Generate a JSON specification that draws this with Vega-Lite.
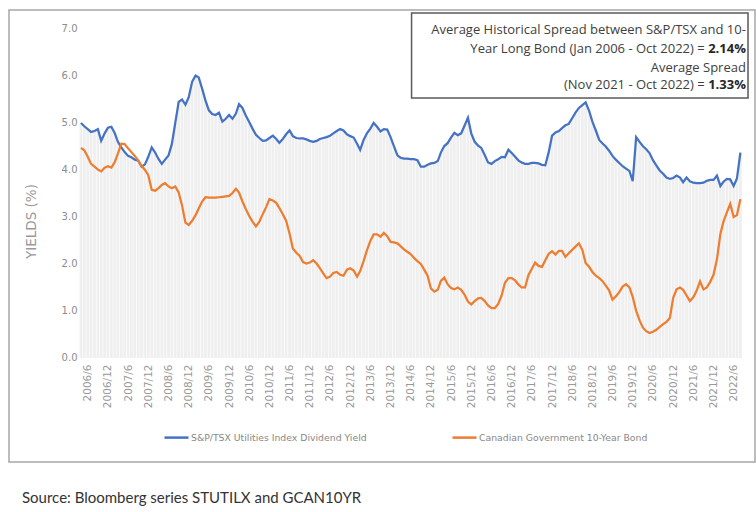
{
  "$schema": "https://vega.github.io/schema/vega-lite/v6.json",
  "width": 746,
  "height": 452,
  "autosize": {"type": "none"},
  "padding": {"left": 9, "top": 10, "right": 1, "bottom": 50},
  "background": "white",
  "config": {
    "view": {"stroke": "#a6a6a6", "strokeWidth": 1.5},
    "font": "DejaVu Sans",
    "axis": {"labelOverlap": false}
  },
  "title": {
    "text": "Source:  Bloomberg series STUTILX and GCAN10YR",
    "orient": "bottom",
    "anchor": "start",
    "font": "Lato",
    "fontSize": 15,
    "fontWeight": "normal",
    "color": "#333333",
    "baseline": "top",
    "offset": 29,
    "dx": 13
  },
  "resolve": {"axis": {"x": "independent", "y": "independent"}},
  "data": {
    "values": [
      {"d":"2006-04","s":"U","v":5.0},{"d":"2006-05","s":"U","v":4.93},{"d":"2006-06","s":"U","v":4.87},{"d":"2006-07","s":"U","v":4.81},{"d":"2006-08","s":"U","v":4.83},{"d":"2006-09","s":"U","v":4.87},{"d":"2006-10","s":"U","v":4.62},{"d":"2006-11","s":"U","v":4.78},{"d":"2006-12","s":"U","v":4.9},
      {"d":"2007-01","s":"U","v":4.92},{"d":"2007-02","s":"U","v":4.78},{"d":"2007-03","s":"U","v":4.6},{"d":"2007-04","s":"U","v":4.48},{"d":"2007-05","s":"U","v":4.38},{"d":"2007-06","s":"U","v":4.3},{"d":"2007-07","s":"U","v":4.27},{"d":"2007-08","s":"U","v":4.22},{"d":"2007-09","s":"U","v":4.2},{"d":"2007-10","s":"U","v":4.07},{"d":"2007-11","s":"U","v":4.12},{"d":"2007-12","s":"U","v":4.28},
      {"d":"2008-01","s":"U","v":4.48},{"d":"2008-02","s":"U","v":4.37},{"d":"2008-03","s":"U","v":4.24},{"d":"2008-04","s":"U","v":4.13},{"d":"2008-05","s":"U","v":4.22},{"d":"2008-06","s":"U","v":4.31},{"d":"2008-07","s":"U","v":4.55},{"d":"2008-08","s":"U","v":5.0},{"d":"2008-09","s":"U","v":5.45},{"d":"2008-10","s":"U","v":5.5},{"d":"2008-11","s":"U","v":5.39},{"d":"2008-12","s":"U","v":5.55},
      {"d":"2009-01","s":"U","v":5.88},{"d":"2009-02","s":"U","v":6.01},{"d":"2009-03","s":"U","v":5.97},{"d":"2009-04","s":"U","v":5.73},{"d":"2009-05","s":"U","v":5.48},{"d":"2009-06","s":"U","v":5.27},{"d":"2009-07","s":"U","v":5.19},{"d":"2009-08","s":"U","v":5.17},{"d":"2009-09","s":"U","v":5.22},{"d":"2009-10","s":"U","v":5.03},{"d":"2009-11","s":"U","v":5.09},{"d":"2009-12","s":"U","v":5.17},
      {"d":"2010-01","s":"U","v":5.09},{"d":"2010-02","s":"U","v":5.2},{"d":"2010-03","s":"U","v":5.4},{"d":"2010-04","s":"U","v":5.32},{"d":"2010-05","s":"U","v":5.16},{"d":"2010-06","s":"U","v":5.02},{"d":"2010-07","s":"U","v":4.88},{"d":"2010-08","s":"U","v":4.75},{"d":"2010-09","s":"U","v":4.68},{"d":"2010-10","s":"U","v":4.62},{"d":"2010-11","s":"U","v":4.63},{"d":"2010-12","s":"U","v":4.68},
      {"d":"2011-01","s":"U","v":4.73},{"d":"2011-02","s":"U","v":4.66},{"d":"2011-03","s":"U","v":4.58},{"d":"2011-04","s":"U","v":4.66},{"d":"2011-05","s":"U","v":4.76},{"d":"2011-06","s":"U","v":4.84},{"d":"2011-07","s":"U","v":4.72},{"d":"2011-08","s":"U","v":4.68},{"d":"2011-09","s":"U","v":4.67},{"d":"2011-10","s":"U","v":4.67},{"d":"2011-11","s":"U","v":4.65},{"d":"2011-12","s":"U","v":4.62},
      {"d":"2012-01","s":"U","v":4.6},{"d":"2012-02","s":"U","v":4.62},{"d":"2012-03","s":"U","v":4.66},{"d":"2012-04","s":"U","v":4.68},{"d":"2012-05","s":"U","v":4.7},{"d":"2012-06","s":"U","v":4.73},{"d":"2012-07","s":"U","v":4.78},{"d":"2012-08","s":"U","v":4.83},{"d":"2012-09","s":"U","v":4.87},{"d":"2012-10","s":"U","v":4.84},{"d":"2012-11","s":"U","v":4.76},{"d":"2012-12","s":"U","v":4.72},
      {"d":"2013-01","s":"U","v":4.69},{"d":"2013-02","s":"U","v":4.56},{"d":"2013-03","s":"U","v":4.43},{"d":"2013-04","s":"U","v":4.64},{"d":"2013-05","s":"U","v":4.78},{"d":"2013-06","s":"U","v":4.88},{"d":"2013-07","s":"U","v":5.0},{"d":"2013-08","s":"U","v":4.92},{"d":"2013-09","s":"U","v":4.82},{"d":"2013-10","s":"U","v":4.87},{"d":"2013-11","s":"U","v":4.86},{"d":"2013-12","s":"U","v":4.7},
      {"d":"2014-01","s":"U","v":4.5},{"d":"2014-02","s":"U","v":4.31},{"d":"2014-03","s":"U","v":4.26},{"d":"2014-04","s":"U","v":4.24},{"d":"2014-05","s":"U","v":4.24},{"d":"2014-06","s":"U","v":4.23},{"d":"2014-07","s":"U","v":4.23},{"d":"2014-08","s":"U","v":4.21},{"d":"2014-09","s":"U","v":4.07},{"d":"2014-10","s":"U","v":4.07},{"d":"2014-11","s":"U","v":4.11},{"d":"2014-12","s":"U","v":4.14},
      {"d":"2015-01","s":"U","v":4.15},{"d":"2015-02","s":"U","v":4.19},{"d":"2015-03","s":"U","v":4.37},{"d":"2015-04","s":"U","v":4.51},{"d":"2015-05","s":"U","v":4.57},{"d":"2015-06","s":"U","v":4.69},{"d":"2015-07","s":"U","v":4.79},{"d":"2015-08","s":"U","v":4.74},{"d":"2015-09","s":"U","v":4.78},{"d":"2015-10","s":"U","v":4.94},{"d":"2015-11","s":"U","v":5.11},{"d":"2015-12","s":"U","v":4.78},
      {"d":"2016-01","s":"U","v":4.6},{"d":"2016-02","s":"U","v":4.52},{"d":"2016-03","s":"U","v":4.47},{"d":"2016-04","s":"U","v":4.32},{"d":"2016-05","s":"U","v":4.16},{"d":"2016-06","s":"U","v":4.13},{"d":"2016-07","s":"U","v":4.19},{"d":"2016-08","s":"U","v":4.23},{"d":"2016-09","s":"U","v":4.28},{"d":"2016-10","s":"U","v":4.27},{"d":"2016-11","s":"U","v":4.43},{"d":"2016-12","s":"U","v":4.36},
      {"d":"2017-01","s":"U","v":4.28},{"d":"2017-02","s":"U","v":4.2},{"d":"2017-03","s":"U","v":4.16},{"d":"2017-04","s":"U","v":4.13},{"d":"2017-05","s":"U","v":4.13},{"d":"2017-06","s":"U","v":4.15},{"d":"2017-07","s":"U","v":4.15},{"d":"2017-08","s":"U","v":4.14},{"d":"2017-09","s":"U","v":4.11},{"d":"2017-10","s":"U","v":4.1},{"d":"2017-11","s":"U","v":4.38},{"d":"2017-12","s":"U","v":4.73},
      {"d":"2018-01","s":"U","v":4.8},{"d":"2018-02","s":"U","v":4.83},{"d":"2018-03","s":"U","v":4.89},{"d":"2018-04","s":"U","v":4.95},{"d":"2018-05","s":"U","v":4.98},{"d":"2018-06","s":"U","v":5.1},{"d":"2018-07","s":"U","v":5.22},{"d":"2018-08","s":"U","v":5.32},{"d":"2018-09","s":"U","v":5.38},{"d":"2018-10","s":"U","v":5.44},{"d":"2018-11","s":"U","v":5.26},{"d":"2018-12","s":"U","v":5.03},
      {"d":"2019-01","s":"U","v":4.84},{"d":"2019-02","s":"U","v":4.64},{"d":"2019-03","s":"U","v":4.57},{"d":"2019-04","s":"U","v":4.5},{"d":"2019-05","s":"U","v":4.41},{"d":"2019-06","s":"U","v":4.3},{"d":"2019-07","s":"U","v":4.22},{"d":"2019-08","s":"U","v":4.15},{"d":"2019-09","s":"U","v":4.08},{"d":"2019-10","s":"U","v":4.03},{"d":"2019-11","s":"U","v":3.98},{"d":"2019-12","s":"U","v":3.76},
      {"d":"2020-01","s":"U","v":4.7},{"d":"2020-02","s":"U","v":4.6},{"d":"2020-03","s":"U","v":4.51},{"d":"2020-04","s":"U","v":4.44},{"d":"2020-05","s":"U","v":4.36},{"d":"2020-06","s":"U","v":4.21},{"d":"2020-07","s":"U","v":4.1},{"d":"2020-08","s":"U","v":3.99},{"d":"2020-09","s":"U","v":3.92},{"d":"2020-10","s":"U","v":3.84},{"d":"2020-11","s":"U","v":3.81},{"d":"2020-12","s":"U","v":3.83},
      {"d":"2021-01","s":"U","v":3.88},{"d":"2021-02","s":"U","v":3.84},{"d":"2021-03","s":"U","v":3.74},{"d":"2021-04","s":"U","v":3.84},{"d":"2021-05","s":"U","v":3.76},{"d":"2021-06","s":"U","v":3.73},{"d":"2021-07","s":"U","v":3.72},{"d":"2021-08","s":"U","v":3.72},{"d":"2021-09","s":"U","v":3.73},{"d":"2021-10","s":"U","v":3.77},{"d":"2021-11","s":"U","v":3.79},{"d":"2021-12","s":"U","v":3.79},
      {"d":"2022-01","s":"U","v":3.88},{"d":"2022-02","s":"U","v":3.66},{"d":"2022-03","s":"U","v":3.75},{"d":"2022-04","s":"U","v":3.81},{"d":"2022-05","s":"U","v":3.8},{"d":"2022-06","s":"U","v":3.66},{"d":"2022-07","s":"U","v":3.82},{"d":"2022-08","s":"U","v":4.37},
      {"d":"2006-04","s":"B","v":4.47},{"d":"2006-05","s":"B","v":4.42},{"d":"2006-06","s":"B","v":4.28},{"d":"2006-07","s":"B","v":4.13},{"d":"2006-08","s":"B","v":4.07},{"d":"2006-09","s":"B","v":4.01},{"d":"2006-10","s":"B","v":3.97},{"d":"2006-11","s":"B","v":4.05},{"d":"2006-12","s":"B","v":4.08},
      {"d":"2007-01","s":"B","v":4.05},{"d":"2007-02","s":"B","v":4.17},{"d":"2007-03","s":"B","v":4.35},{"d":"2007-04","s":"B","v":4.56},{"d":"2007-05","s":"B","v":4.55},{"d":"2007-06","s":"B","v":4.46},{"d":"2007-07","s":"B","v":4.38},{"d":"2007-08","s":"B","v":4.3},{"d":"2007-09","s":"B","v":4.2},{"d":"2007-10","s":"B","v":4.09},{"d":"2007-11","s":"B","v":4.0},{"d":"2007-12","s":"B","v":3.89},
      {"d":"2008-01","s":"B","v":3.58},{"d":"2008-02","s":"B","v":3.56},{"d":"2008-03","s":"B","v":3.61},{"d":"2008-04","s":"B","v":3.68},{"d":"2008-05","s":"B","v":3.72},{"d":"2008-06","s":"B","v":3.65},{"d":"2008-07","s":"B","v":3.61},{"d":"2008-08","s":"B","v":3.65},{"d":"2008-09","s":"B","v":3.52},{"d":"2008-10","s":"B","v":3.25},{"d":"2008-11","s":"B","v":2.88},{"d":"2008-12","s":"B","v":2.83},
      {"d":"2009-01","s":"B","v":2.92},{"d":"2009-02","s":"B","v":3.04},{"d":"2009-03","s":"B","v":3.18},{"d":"2009-04","s":"B","v":3.33},{"d":"2009-05","s":"B","v":3.42},{"d":"2009-06","s":"B","v":3.41},{"d":"2009-07","s":"B","v":3.41},{"d":"2009-08","s":"B","v":3.41},{"d":"2009-09","s":"B","v":3.42},{"d":"2009-10","s":"B","v":3.43},{"d":"2009-11","s":"B","v":3.44},{"d":"2009-12","s":"B","v":3.45},
      {"d":"2010-01","s":"B","v":3.51},{"d":"2010-02","s":"B","v":3.6},{"d":"2010-03","s":"B","v":3.52},{"d":"2010-04","s":"B","v":3.33},{"d":"2010-05","s":"B","v":3.17},{"d":"2010-06","s":"B","v":3.02},{"d":"2010-07","s":"B","v":2.9},{"d":"2010-08","s":"B","v":2.8},{"d":"2010-09","s":"B","v":2.9},{"d":"2010-10","s":"B","v":3.06},{"d":"2010-11","s":"B","v":3.21},{"d":"2010-12","s":"B","v":3.38},
      {"d":"2011-01","s":"B","v":3.35},{"d":"2011-02","s":"B","v":3.3},{"d":"2011-03","s":"B","v":3.19},{"d":"2011-04","s":"B","v":3.06},{"d":"2011-05","s":"B","v":2.92},{"d":"2011-06","s":"B","v":2.65},{"d":"2011-07","s":"B","v":2.33},{"d":"2011-08","s":"B","v":2.24},{"d":"2011-09","s":"B","v":2.17},{"d":"2011-10","s":"B","v":2.04},{"d":"2011-11","s":"B","v":2.01},{"d":"2011-12","s":"B","v":2.03},
      {"d":"2012-01","s":"B","v":2.08},{"d":"2012-02","s":"B","v":2.01},{"d":"2012-03","s":"B","v":1.91},{"d":"2012-04","s":"B","v":1.8},{"d":"2012-05","s":"B","v":1.7},{"d":"2012-06","s":"B","v":1.73},{"d":"2012-07","s":"B","v":1.81},{"d":"2012-08","s":"B","v":1.83},{"d":"2012-09","s":"B","v":1.77},{"d":"2012-10","s":"B","v":1.75},{"d":"2012-11","s":"B","v":1.88},{"d":"2012-12","s":"B","v":1.91},
      {"d":"2013-01","s":"B","v":1.86},{"d":"2013-02","s":"B","v":1.73},{"d":"2013-03","s":"B","v":1.85},{"d":"2013-04","s":"B","v":2.06},{"d":"2013-05","s":"B","v":2.29},{"d":"2013-06","s":"B","v":2.49},{"d":"2013-07","s":"B","v":2.63},{"d":"2013-08","s":"B","v":2.63},{"d":"2013-09","s":"B","v":2.58},{"d":"2013-10","s":"B","v":2.66},{"d":"2013-11","s":"B","v":2.59},{"d":"2013-12","s":"B","v":2.47},
      {"d":"2014-01","s":"B","v":2.46},{"d":"2014-02","s":"B","v":2.44},{"d":"2014-03","s":"B","v":2.38},{"d":"2014-04","s":"B","v":2.31},{"d":"2014-05","s":"B","v":2.26},{"d":"2014-06","s":"B","v":2.21},{"d":"2014-07","s":"B","v":2.13},{"d":"2014-08","s":"B","v":2.06},{"d":"2014-09","s":"B","v":2.0},{"d":"2014-10","s":"B","v":1.88},{"d":"2014-11","s":"B","v":1.75},{"d":"2014-12","s":"B","v":1.48},
      {"d":"2015-01","s":"B","v":1.41},{"d":"2015-02","s":"B","v":1.45},{"d":"2015-03","s":"B","v":1.64},{"d":"2015-04","s":"B","v":1.71},{"d":"2015-05","s":"B","v":1.57},{"d":"2015-06","s":"B","v":1.49},{"d":"2015-07","s":"B","v":1.46},{"d":"2015-08","s":"B","v":1.5},{"d":"2015-09","s":"B","v":1.45},{"d":"2015-10","s":"B","v":1.35},{"d":"2015-11","s":"B","v":1.2},{"d":"2015-12","s":"B","v":1.14},
      {"d":"2016-01","s":"B","v":1.21},{"d":"2016-02","s":"B","v":1.27},{"d":"2016-03","s":"B","v":1.28},{"d":"2016-04","s":"B","v":1.21},{"d":"2016-05","s":"B","v":1.12},{"d":"2016-06","s":"B","v":1.06},{"d":"2016-07","s":"B","v":1.06},{"d":"2016-08","s":"B","v":1.15},{"d":"2016-09","s":"B","v":1.33},{"d":"2016-10","s":"B","v":1.6},{"d":"2016-11","s":"B","v":1.7},{"d":"2016-12","s":"B","v":1.7},
      {"d":"2017-01","s":"B","v":1.65},{"d":"2017-02","s":"B","v":1.56},{"d":"2017-03","s":"B","v":1.5},{"d":"2017-04","s":"B","v":1.5},{"d":"2017-05","s":"B","v":1.76},{"d":"2017-06","s":"B","v":1.9},{"d":"2017-07","s":"B","v":2.03},{"d":"2017-08","s":"B","v":1.96},{"d":"2017-09","s":"B","v":1.94},{"d":"2017-10","s":"B","v":2.08},{"d":"2017-11","s":"B","v":2.22},{"d":"2017-12","s":"B","v":2.27},
      {"d":"2018-01","s":"B","v":2.2},{"d":"2018-02","s":"B","v":2.28},{"d":"2018-03","s":"B","v":2.28},{"d":"2018-04","s":"B","v":2.15},{"d":"2018-05","s":"B","v":2.23},{"d":"2018-06","s":"B","v":2.3},{"d":"2018-07","s":"B","v":2.37},{"d":"2018-08","s":"B","v":2.44},{"d":"2018-09","s":"B","v":2.3},{"d":"2018-10","s":"B","v":2.02},{"d":"2018-11","s":"B","v":1.94},{"d":"2018-12","s":"B","v":1.83},
      {"d":"2019-01","s":"B","v":1.75},{"d":"2019-02","s":"B","v":1.7},{"d":"2019-03","s":"B","v":1.64},{"d":"2019-04","s":"B","v":1.54},{"d":"2019-05","s":"B","v":1.44},{"d":"2019-06","s":"B","v":1.24},{"d":"2019-07","s":"B","v":1.31},{"d":"2019-08","s":"B","v":1.4},{"d":"2019-09","s":"B","v":1.52},{"d":"2019-10","s":"B","v":1.57},{"d":"2019-11","s":"B","v":1.5},{"d":"2019-12","s":"B","v":1.3},
      {"d":"2020-01","s":"B","v":1.0},{"d":"2020-02","s":"B","v":0.8},{"d":"2020-03","s":"B","v":0.65},{"d":"2020-04","s":"B","v":0.57},{"d":"2020-05","s":"B","v":0.53},{"d":"2020-06","s":"B","v":0.56},{"d":"2020-07","s":"B","v":0.6},{"d":"2020-08","s":"B","v":0.66},{"d":"2020-09","s":"B","v":0.72},{"d":"2020-10","s":"B","v":0.77},{"d":"2020-11","s":"B","v":0.85},{"d":"2020-12","s":"B","v":1.28},
      {"d":"2021-01","s":"B","v":1.46},{"d":"2021-02","s":"B","v":1.5},{"d":"2021-03","s":"B","v":1.45},{"d":"2021-04","s":"B","v":1.33},{"d":"2021-05","s":"B","v":1.21},{"d":"2021-06","s":"B","v":1.29},{"d":"2021-07","s":"B","v":1.43},{"d":"2021-08","s":"B","v":1.63},{"d":"2021-09","s":"B","v":1.46},{"d":"2021-10","s":"B","v":1.5},{"d":"2021-11","s":"B","v":1.62},{"d":"2021-12","s":"B","v":1.77},
      {"d":"2022-01","s":"B","v":2.1},{"d":"2022-02","s":"B","v":2.64},{"d":"2022-03","s":"B","v":2.9},{"d":"2022-04","s":"B","v":3.1},{"d":"2022-05","s":"B","v":3.28},{"d":"2022-06","s":"B","v":3.0},{"d":"2022-07","s":"B","v":3.04},{"d":"2022-08","s":"B","v":3.38}
    ]
  },
  "layer": [
    {
      "transform": [{"filter": "datum.s == 'U'"}],
      "mark": {"type": "bar", "color": "#efefef", "width": 2.8},
      "encoding": {
        "x": {
          "field": "d",
          "type": "temporal",
          "scale": {"type": "utc", "domain": [{"year": 2004, "month": 8, "date": 3, "utc": true}, {"year": 2022, "month": 10, "date": 27, "utc": true}]},
          "axis": {
            "values": [
              {"year":2006,"month":6,"utc":true},{"year":2006,"month":12,"utc":true},
              {"year":2007,"month":6,"utc":true},{"year":2007,"month":12,"utc":true},
              {"year":2008,"month":6,"utc":true},{"year":2008,"month":12,"utc":true},
              {"year":2009,"month":6,"utc":true},{"year":2009,"month":12,"utc":true},
              {"year":2010,"month":6,"utc":true},{"year":2010,"month":12,"utc":true},
              {"year":2011,"month":6,"utc":true},{"year":2011,"month":12,"utc":true},
              {"year":2012,"month":6,"utc":true},{"year":2012,"month":12,"utc":true},
              {"year":2013,"month":6,"utc":true},{"year":2013,"month":12,"utc":true},
              {"year":2014,"month":6,"utc":true},{"year":2014,"month":12,"utc":true},
              {"year":2015,"month":6,"utc":true},{"year":2015,"month":12,"utc":true},
              {"year":2016,"month":6,"utc":true},{"year":2016,"month":12,"utc":true},
              {"year":2017,"month":6,"utc":true},{"year":2017,"month":12,"utc":true},
              {"year":2018,"month":6,"utc":true},{"year":2018,"month":12,"utc":true},
              {"year":2019,"month":6,"utc":true},{"year":2019,"month":12,"utc":true},
              {"year":2020,"month":6,"utc":true},{"year":2020,"month":12,"utc":true},
              {"year":2021,"month":6,"utc":true},{"year":2021,"month":12,"utc":true},
              {"year":2022,"month":6,"utc":true}
            ],
            "format": "%Y/%-m",
            "labelAngle": -90,
            "labelOverlap": false,
            "labelFontSize": 10.5,
            "labelColor": "#999999",
            "labelPadding": 6,
            "offset": -104,
            "domain": false,
            "ticks": false,
            "grid": false,
            "title": null
          }
        },
        "y": {
          "field": "v",
          "type": "quantitative",
          "scale": {"domain": [-2.213, 7.404], "nice": false, "zero": false},
          "axis": {
            "values": [0, 1, 2, 3, 4, 5, 6, 7],
            "format": ".1f",
            "offset": -70,
            "domain": false,
            "ticks": false,
            "grid": false,
            "labelFontSize": 10,
            "labelColor": "#8c8c8c",
            "labelPadding": 2,
            "title": "YIELDS (%)",
            "titleFontSize": 13.5,
            "titleFontWeight": "normal",
            "titleColor": "#999999",
            "titleX": -41,
            "titleY": 211
          }
        },
        "y2": {"datum": 0}
      }
    },
    {
      "mark": {"type": "line", "strokeWidth": 2.25},
      "encoding": {
        "x": {"field": "d", "type": "temporal", "axis": null},
        "y": {"field": "v", "type": "quantitative", "axis": null},
        "color": {
          "field": "s",
          "type": "nominal",
          "scale": {"domain": ["U", "B"], "range": ["#4472C4", "#ED7D31"]},
          "legend": {
            "orient": "none",
            "legendX": 154,
            "legendY": 414,
            "direction": "horizontal",
            "title": null,
            "symbolType": "stroke",
            "symbolSize": 576,
            "symbolStrokeWidth": 2.5,
            "labelFontSize": 9.3,
            "labelColor": "#888888",
            "labelOffset": 1,
            "labelLimit": 400,
            "columnPadding": 80,
            "labelExpr": "datum.label == 'U' ? 'S&P/TSX Utilities Index Dividend Yield' : 'Canadian Government 10-Year Bond'"
          }
        }
      }
    },
    {
      "data": {"values": [{}]},
      "mark": {"type": "rect", "fill": "white", "stroke": "#595959", "strokeWidth": 1.5},
      "encoding": {
        "x": {"datum": {"year": 2014, "month": 6, "date": 9, "utc": true}, "type": "temporal", "axis": null},
        "x2": {"datum": {"year": 2022, "month": 10, "date": 9, "utc": true}},
        "y": {"datum": 7.34, "type": "quantitative", "axis": null},
        "y2": {"datum": 5.53}
      }
    },
    {
      "data": {"values": [{}]},
      "mark": {"type": "text", "text": "Average Historical Spread between S&P/TSX and 10-", "align": "right", "baseline": "middle", "font": "Open Sans", "fontSize": 13, "color": "#404040"},
      "encoding": {
        "x": {"datum": {"year": 2022, "month": 9, "date": 20, "utc": true}, "type": "temporal", "axis": null},
        "y": {"datum": 6.98, "type": "quantitative", "axis": null}
      }
    },
    {
      "data": {"values": [{}]},
      "mark": {"type": "text", "text": "Year Long Bond (Jan 2006 - Oct 2022) =", "align": "right", "baseline": "middle", "font": "Open Sans", "fontSize": 13, "color": "#404040"},
      "encoding": {
        "x": {"datum": {"year": 2021, "month": 9, "date": 12, "utc": true}, "type": "temporal", "axis": null},
        "y": {"datum": 6.57, "type": "quantitative", "axis": null}
      }
    },
    {
      "data": {"values": [{}]},
      "mark": {"type": "text", "text": "2.14%", "align": "right", "baseline": "middle", "font": "Open Sans", "fontSize": 13, "fontWeight": "bold", "color": "#262626"},
      "encoding": {
        "x": {"datum": {"year": 2022, "month": 9, "date": 20, "utc": true}, "type": "temporal", "axis": null},
        "y": {"datum": 6.57, "type": "quantitative", "axis": null}
      }
    },
    {
      "data": {"values": [{}]},
      "mark": {"type": "text", "text": "Average Spread", "align": "right", "baseline": "middle", "font": "Open Sans", "fontSize": 13, "color": "#404040"},
      "encoding": {
        "x": {"datum": {"year": 2022, "month": 9, "date": 20, "utc": true}, "type": "temporal", "axis": null},
        "y": {"datum": 6.17, "type": "quantitative", "axis": null}
      }
    },
    {
      "data": {"values": [{}]},
      "mark": {"type": "text", "text": "(Nov 2021 - Oct 2022) =", "align": "right", "baseline": "middle", "font": "Open Sans", "fontSize": 13, "color": "#404040"},
      "encoding": {
        "x": {"datum": {"year": 2021, "month": 9, "date": 12, "utc": true}, "type": "temporal", "axis": null},
        "y": {"datum": 5.81, "type": "quantitative", "axis": null}
      }
    },
    {
      "data": {"values": [{}]},
      "mark": {"type": "text", "text": "1.33%", "align": "right", "baseline": "middle", "font": "Open Sans", "fontSize": 13, "fontWeight": "bold", "color": "#262626"},
      "encoding": {
        "x": {"datum": {"year": 2022, "month": 9, "date": 20, "utc": true}, "type": "temporal", "axis": null},
        "y": {"datum": 5.81, "type": "quantitative", "axis": null}
      }
    }
  ]
}
